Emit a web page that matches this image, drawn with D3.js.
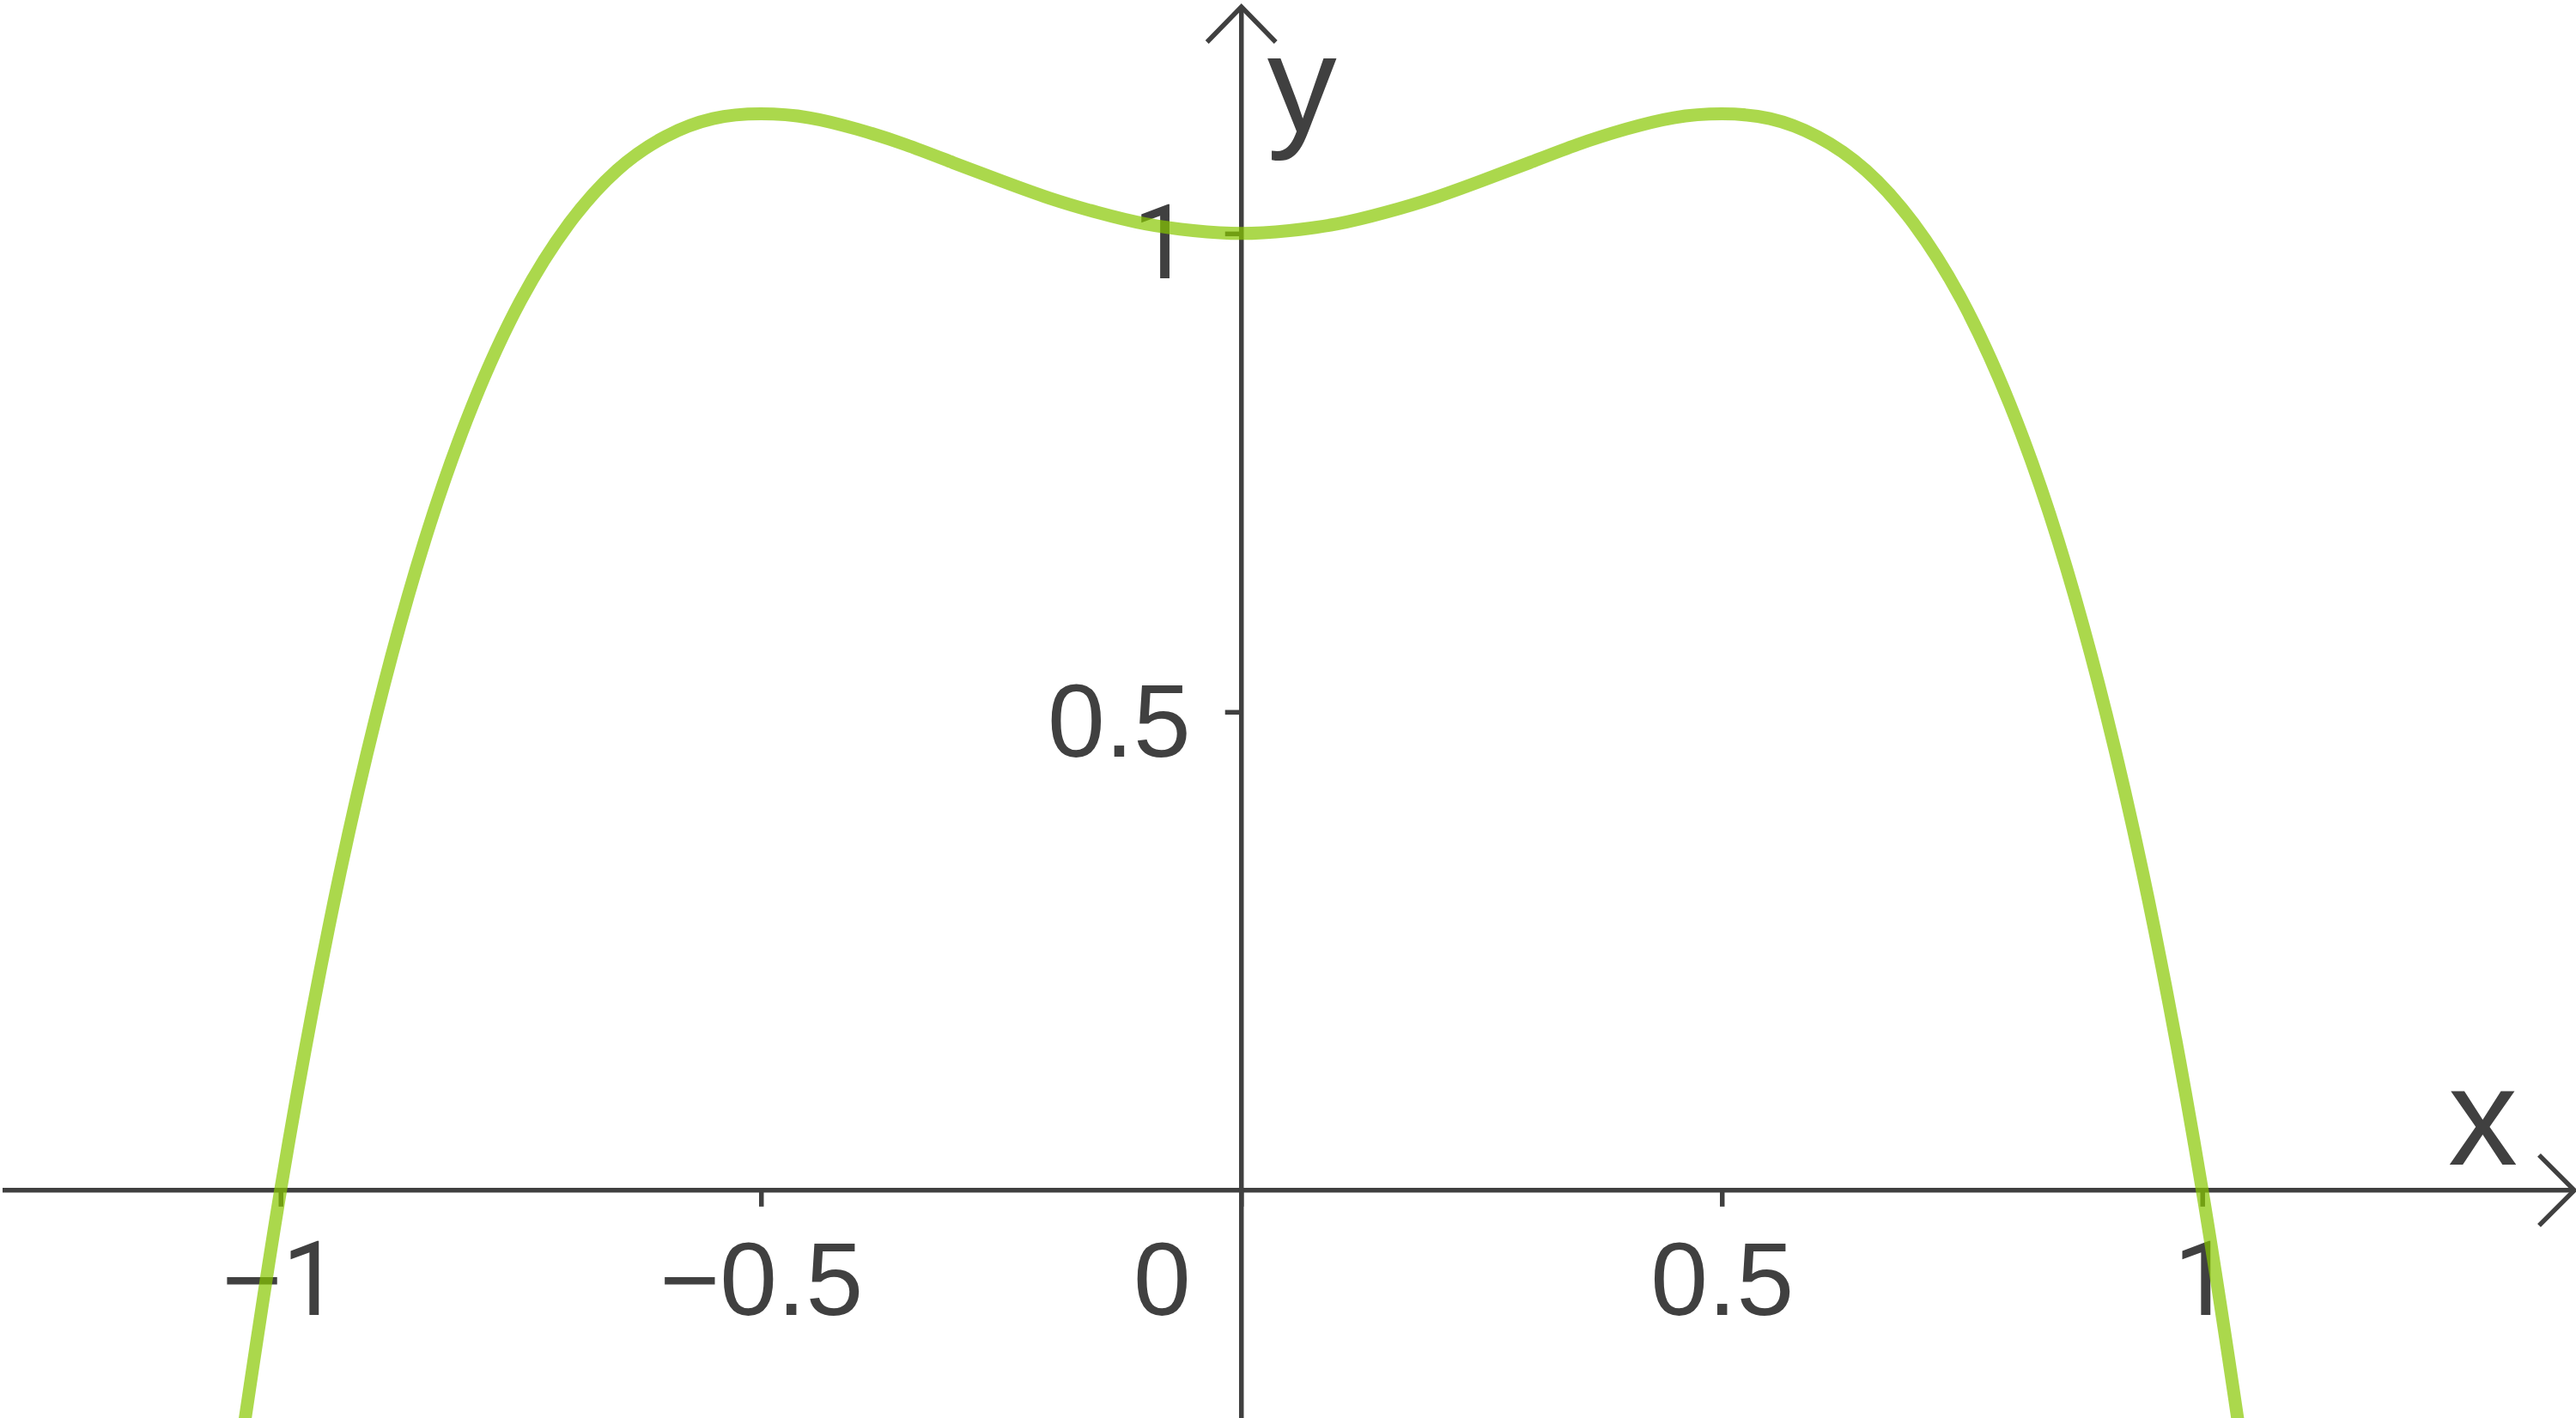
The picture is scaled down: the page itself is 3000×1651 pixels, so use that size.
<!DOCTYPE html>
<html>
<head>
<meta charset="utf-8">
<script src="https://cdn.jsdelivr.net/npm/d3@7"></script>
<style>
    body { margin: 0; background: #fff; }
    svg { display: block; }
    .tick text { font-family: "Liberation Sans", Arial, Helvetica, sans-serif; fill: #404040; }
</style>
</head>
<body>
<div id="chart"></div>
<script>

// values
const xValues = [-1.04, -1.00, -0.95, -0.90, -0.85, -0.80, -0.75, -0.70, -0.65, -0.60, -0.55, -0.50, -0.45, -0.40, -0.35, -0.30, -0.25, -0.20, -0.15, -0.10, -0.05,
    0, 0.05, 0.10, 0.15, 0.20, 0.25, 0.30, 0.35, 0.40, 0.45, 0.50, 0.55, 0.60, 0.65, 0.70, 0.75, 0.80, 0.85, 0.90, 0.95, 1.00, 1.04];
const yValues = [-0.26, 0.00, 0.274, 0.498, 0.679, 0.821, 0.930, 1.010, 1.066, 1.101, 1.120, 1.125, 1.121, 1.109, 1.093, 1.074, 1.055, 1.037, 1.022, 1.010, 1.003,
    1.000, 1.003, 1.010, 1.022, 1.037, 1.055, 1.074, 1.093, 1.109, 1.121, 1.125, 1.120, 1.101, 1.066, 1.010, 0.930, 0.821, 0.679, 0.498, 0.274, 0.00, -0.26];

const xTicks = [-1, -0.5, 0.5, 1];
const xTickLabels = ['\u22121', '\u22120.5', '0.5', '1'];
const yTicks = [0.5, 1];
const yTickLabels = ['0.5', '1'];
const originLabel = '0';
const xAxisTitle = 'x';
const yAxisTitle = 'y';

const width = 3000, height = 1651;
const axisColor = '#404040';
const mainFont = '"Liberation Sans", Arial, Helvetica, sans-serif';
const oneFont = 'Roboto, "Liberation Sans", Arial, sans-serif'; // footless "1"

const x = d3.scaleLinear().domain([-1.292, 1.389]).range([0, width]);
const y = d3.scaleLinear().domain([-0.238, 1.244]).range([height, 0]);

const x0 = x(0), y0 = y(0);

// the digit 1 in the picture has no foot, so draw it from another face
function splitOnes(sel) {
    sel.each(function() {
        const t = d3.select(this);
        const s = t.text();
        t.text(null);
        for (const ch of s) {
            t.append('tspan')
                .style('font-family', ch === '1' ? oneFont : mainFont)
                .text(ch);
        }
    });
}

const svg = d3.select('#chart')
    .append('svg')
    .attr('width', width)
    .attr('height', height);

// axis lines
svg.append('line')
    .attr('x1', 3).attr('x2', width - 2)
    .attr('y1', y0).attr('y2', y0)
    .attr('stroke', axisColor).attr('stroke-width', 5.5);

svg.append('line')
    .attr('x1', x0).attr('x2', x0)
    .attr('y1', height).attr('y2', 8)
    .attr('stroke', axisColor).attr('stroke-width', 5.5);

// arrow heads
svg.append('path')
    .attr('d', `M${width - 43},${y0 - 41} L${width - 2},${y0} L${width - 43},${y0 + 41}`)
    .attr('fill', 'none').attr('stroke', axisColor).attr('stroke-width', 5.5);

svg.append('path')
    .attr('d', `M${x0 - 40},${49} L${x0},${8} L${x0 + 40},${49}`)
    .attr('fill', 'none').attr('stroke', axisColor).attr('stroke-width', 5.5);

// x axis ticks
const xAxis = d3.axisBottom(x)
    .tickValues(xTicks)
    .tickFormat((d, i) => xTickLabels[i])
    .tickSize(19)
    .tickPadding(41);

svg.append('g')
    .attr('class', 'x axis')
    .attr('transform', `translate(0,${y0})`)
    .call(xAxis)
    .call(g => g.select('.domain').remove())
    .call(g => g.selectAll('line').attr('stroke', axisColor).attr('stroke-width', 5.5))
    .selectAll('text')
    .style('font-size', '120px')
    .call(splitOnes);

// y axis ticks
const yAxis = d3.axisLeft(y)
    .tickValues(yTicks)
    .tickFormat((d, i) => yTickLabels[i])
    .tickSize(19)
    .tickPadding(40);

svg.append('g')
    .attr('class', 'y axis')
    .attr('transform', `translate(${x0},0)`)
    .call(yAxis)
    .call(g => g.select('.domain').remove())
    .call(g => g.selectAll('line').attr('stroke', axisColor).attr('stroke-width', 5.5))
    .selectAll('text')
    .attr('dy', '0.43em')
    .style('font-size', '120px')
    .call(splitOnes);

// origin tick + label
svg.append('line')
    .attr('x1', x0).attr('x2', x0)
    .attr('y1', y0).attr('y2', y0 + 19)
    .attr('stroke', axisColor).attr('stroke-width', 5.5);

svg.append('text')
    .attr('x', x0 - 59)
    .attr('y', y0 + 145)
    .attr('text-anchor', 'end')
    .attr('font-family', mainFont)
    .attr('font-size', '120px')
    .attr('fill', axisColor)
    .text(originLabel);

// axis titles
svg.append('text')
    .attr('x', width - 149)
    .attr('y', y0 - 30)
    .attr('font-family', mainFont)
    .attr('font-size', '162px')
    .attr('fill', axisColor)
    .text(xAxisTitle);

svg.append('text')
    .attr('x', x0 + 30)
    .attr('y', 153)
    .attr('font-family', mainFont)
    .attr('font-size', '162px')
    .attr('fill', axisColor)
    .text(yAxisTitle);

// curve
const points = xValues.map((d, i) => [d, yValues[i]]);

const line = d3.line()
    .x(d => x(d[0]))
    .y(d => y(d[1]))
    .curve(d3.curveNatural);

svg.append('path')
    .datum(points)
    .attr('d', line)
    .attr('fill', 'none')
    .attr('stroke', '#88c800')
    .attr('stroke-opacity', 0.7)
    .attr('stroke-width', 15);

</script>
</body>
</html>
